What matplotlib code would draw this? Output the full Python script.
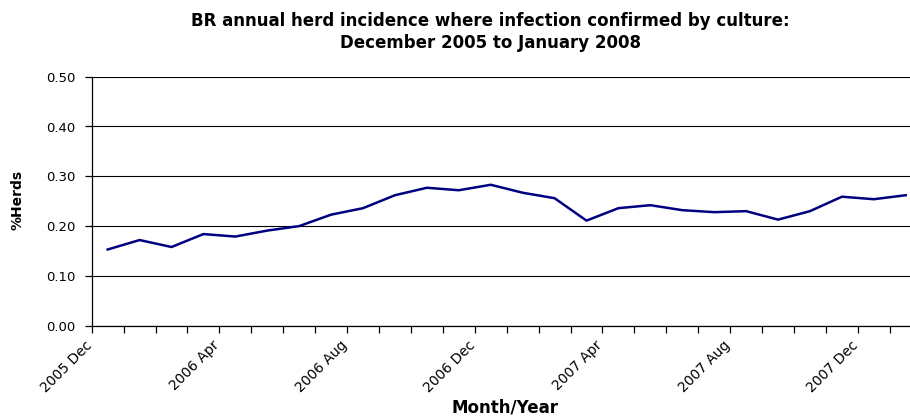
import numpy as np
import matplotlib
matplotlib.use('Agg')
import matplotlib.pyplot as plt
import matplotlib.transforms as mtransforms

# reference text is wide (stretched Arial), DejaVu Sans is the closest wide face
matplotlib.rcParams['font.family'] = ['DejaVu Sans']

months = ['2005 Dec', '2006 Jan', '2006 Feb', '2006 Mar', '2006 Apr', '2006 May', '2006 Jun',
          '2006 Jul', '2006 Aug', '2006 Sep', '2006 Oct', '2006 Nov', '2006 Dec', '2007 Jan',
          '2007 Feb', '2007 Mar', '2007 Apr', '2007 May', '2007 Jun', '2007 Jul', '2007 Aug',
          '2007 Sep', '2007 Oct', '2007 Nov', '2007 Dec', '2008 Jan']
pct_herds = [0.153, 0.172, 0.158, 0.184, 0.179, 0.191, 0.200, 0.223, 0.236, 0.262, 0.277,
             0.272, 0.283, 0.267, 0.256, 0.211, 0.236, 0.242, 0.232, 0.228, 0.230, 0.213,
             0.230, 0.259, 0.254, 0.262]
yticks = [0.0, 0.1, 0.2, 0.3, 0.4, 0.5]

fig = plt.figure(figsize=(9.1, 4.19), dpi=100)
ax = fig.add_axes([91.7 / 910, 93.3 / 419, 830 / 910, 249 / 419])

x = np.arange(len(months))
ax.plot(x, pct_herds, color='#000080', linewidth=1.8, zorder=3)

ax.set_xlim(-0.5, len(months) - 0.5)
ax.set_ylim(0, 0.5)
ax.set_yticks(yticks)
ax.set_yticklabels(['%.2f' % v for v in yticks])
ax.grid(axis='y', color='black', linewidth=0.8)
ax.set_axisbelow(True)

# ticks at category boundaries, label every 4th month
bounds = np.arange(len(months) + 1) - 0.5
labels = [months[i] if (i < len(months) and i % 4 == 0) else '' for i in range(len(bounds))]
ax.set_xticks(bounds)
ax.set_xticklabels(labels, rotation=45, ha='right', rotation_mode='anchor')

for s in ['top', 'right']:
    ax.spines[s].set_visible(False)
ax.spines['left'].set_linewidth(0.9)
ax.spines['bottom'].set_linewidth(0.9)
ax.tick_params(axis='y', direction='out', length=5, width=0.9, labelsize=9.5, pad=7)
ax.tick_params(axis='x', direction='out', length=5, width=0.9, labelsize=10, pad=4)

# nudge the rotated month labels a little to the left, like the reference
shift = mtransforms.ScaledTranslation(-7 / 100, 0, fig.dpi_scale_trans)
for lab in ax.get_xticklabels():
    lab.set_transform(lab.get_transform() + shift)

fig.text(490 / 910, 1 - 21 / 419, 'BR annual herd incidence where infection confirmed by culture:',
         ha='center', va='center', fontsize=12, fontweight='bold')
fig.text(490 / 910, 1 - 43 / 419, 'December 2005 to January 2008',
         ha='center', va='center', fontsize=12, fontweight='bold')
fig.text(17 / 910, 1 - 200 / 419, '%Herds', rotation=90, ha='center', va='center',
         fontsize=10, fontweight='bold')
fig.text(505 / 910, 1 - 407 / 419, 'Month/Year', ha='center', va='center',
         fontsize=12, fontweight='bold')

plt.savefig('out.png', dpi=100)
plt.close()
